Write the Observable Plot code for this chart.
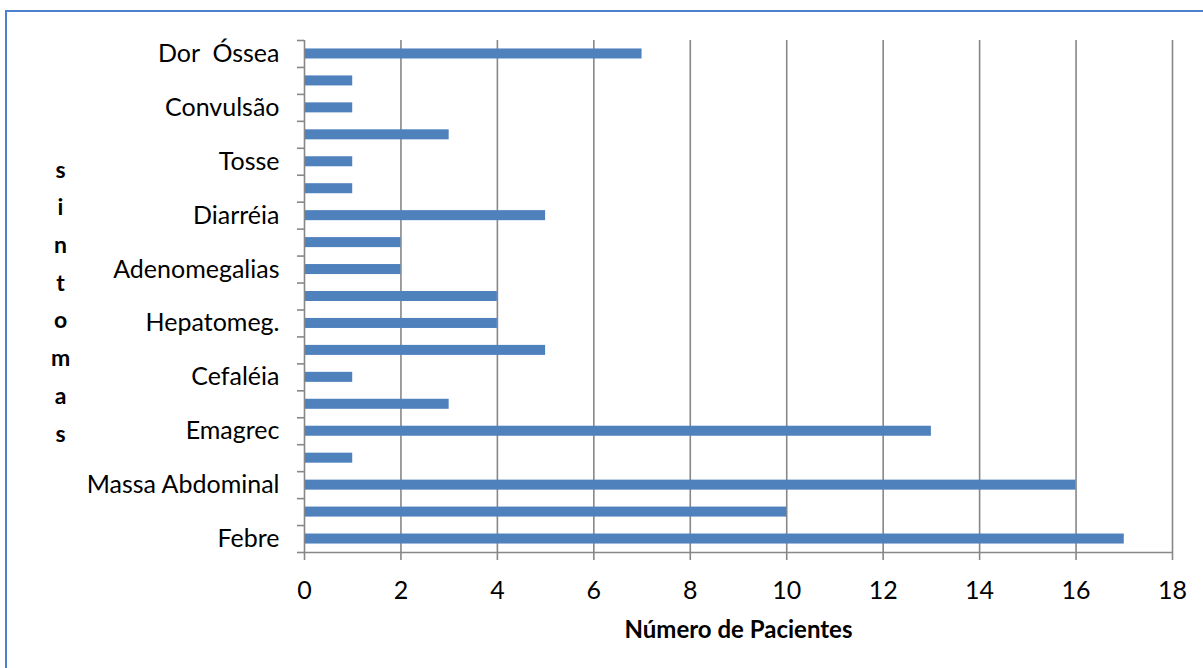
<!DOCTYPE html>
<html>
<head>
<meta charset="utf-8">
<script src="https://cdn.jsdelivr.net/npm/d3@7"></script>
<script src="https://cdn.jsdelivr.net/npm/@observablehq/plot@0.6"></script>
<style>
  html, body { margin: 0; padding: 0; background: #fff; overflow: hidden; }
  #wrap { position: relative; width: 1203px; height: 668px; }
  #box { position: absolute; left: 5px; top: 10px; width: 1400px; height: 900px;
         border: 2px solid #4d7fcf; box-sizing: border-box; pointer-events: none; }
  #chart { position: absolute; left: 0; top: 0; }
</style>
</head>
<body>
<div id="wrap">
  <div id="chart"></div>
  <div id="box"></div>
</div>
<script>
// Symptoms, bottom to top; only every other row carries a visible label
const sintomas = [
  "Febre", "", "Massa Abdominal", "", "Emagrec", "", "Cefaléia", "",
  "Hepatomeg.", "", "Adenomegalias", "", "Diarréia", "", "Tosse", "",
  "Convulsão", "", "Dor  Óssea"
];
// Number of patients per symptom row (same order)
const pacientes = [17, 10, 16, 1, 13, 3, 1, 5, 4, 4, 2, 2, 5, 1, 1, 3, 1, 1, 7];
const xTicks = [0, 2, 4, 6, 8, 10, 12, 14, 16, 18];

const rows = pacientes.map((n, i) => ({i, n}));
const labelRows = sintomas.map((s, i) => i).filter(i => sintomas[i] !== "");
const boundaries = d3.range(-0.5, sintomas.length, 1);

const half = 0.186; // half bar thickness, in row units
const grid = "#878787";
const font = "Lato, 'Open Sans', sans-serif";

const chart = Plot.plot({
  width: 1203,
  height: 668,
  marginLeft: 304,
  marginRight: 31,
  marginTop: 40,
  marginBottom: 116,
  style: {fontFamily: font, fontSize: "25px", color: "#000", background: "transparent"},
  x: {domain: [0, 18]},
  y: {domain: [-0.5, sintomas.length - 0.5]},
  marks: [
    Plot.ruleX(xTicks.filter(t => t > 0), {stroke: grid, strokeWidth: 1.6}),
    Plot.rectX(rows, {
      x1: 0, x2: "n",
      y1: d => d.i - half, y2: d => d.i + half,
      fill: "#4f81bd"
    }),
    // axis lines
    Plot.ruleX([0], {stroke: grid, strokeWidth: 1.6}),
    Plot.ruleY([-0.5], {x1: 0, x2: 18, stroke: grid, strokeWidth: 1.6}),
    // y ticks at row boundaries
    Plot.axisY({ticks: boundaries, tickSize: 7, tickFormat: () => "", stroke: grid, strokeWidth: 1.6}),
    // y labels
    Plot.axisY({ticks: labelRows, tickSize: 0, tickPadding: 25, tickFormat: i => sintomas[i], fontSize: 25, label: null}),
    // x axis
    Plot.axisX({ticks: xTicks, tickSize: 8, tickPadding: 21, stroke: grid, strokeWidth: 1.6, fontSize: 25, label: null}),
    Plot.text(["Número de Pacientes"], {
      frameAnchor: "bottom", dy: 85, fontWeight: "bold", fontSize: 24, fill: "#000"
    }),
    Plot.text(["s\ni\nn\nt\no\nm\na\ns"], {
      frameAnchor: "left", dx: -244, dy: 1, textAnchor: "middle",
      fontWeight: "bold", fontSize: 23, lineHeight: 1.64, fill: "#000"
    })
  ]
});
document.getElementById("chart").appendChild(chart);
</script>
</body>
</html>
